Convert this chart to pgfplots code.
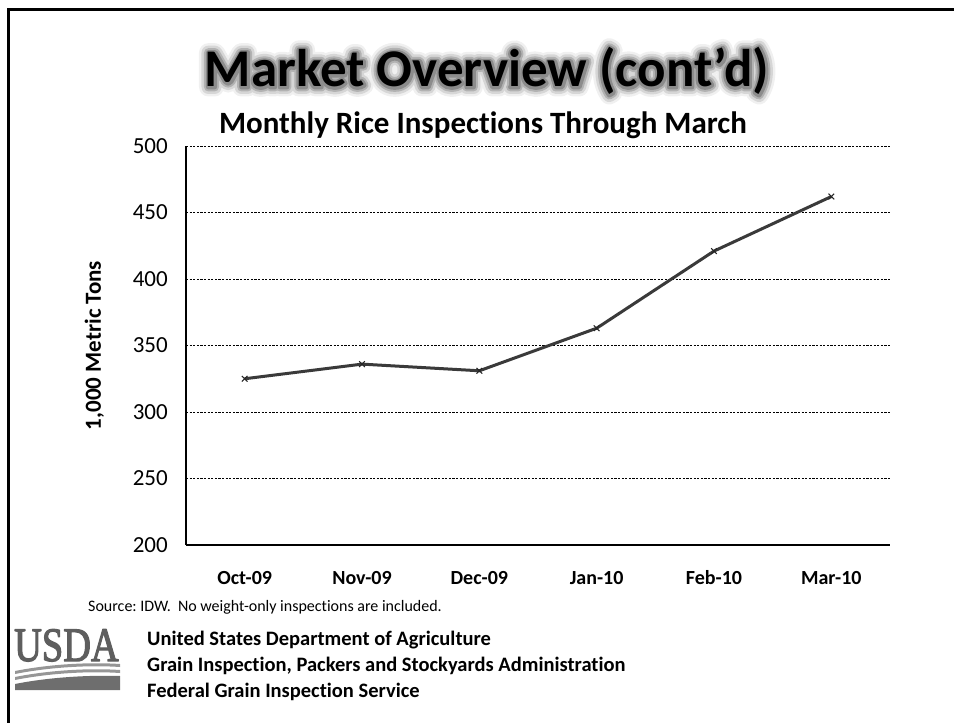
\documentclass[border=0pt]{standalone}
\usepackage{fontspec}
\setmainfont{Carlito}[Ligatures={NoCommon}]
\newfontfamily\logofont{Liberation Serif}
\usepackage{pgfplots}
\pgfplotsset{compat=1.18}
\definecolor{lineclr}{HTML}{3A3A3A}
\definecolor{logoclr}{HTML}{5E5E5E}
\newcommand\glowtext[3]{\special{pdf:literal direct 1 j 1 J #1 w #2 G 2 Tr}#3\special{pdf:literal direct 0 Tr 1 w 0 G}}
\frenchspacing
\begin{document}
\begin{tikzpicture}[x=1bp,y=1bp]
\useasboundingbox (0,0) rectangle (954,-723);
\draw[line width=3bp] (8.5,-723) -- (8.5,-9.5) -- (954,-9.5);
% title with soft grey glow
\foreach \w/\g in {19/0.94,14/0.84,9/0.7,5/0.55}{
\node[anchor=base, inner sep=0pt, text=white, font=\fontsize{53bp}{60bp}\selectfont\bfseries] at (487,-87) {\glowtext{\w}{\g}{Market Overview (cont’d)}};
}
\node[anchor=base, inner sep=0pt, font=\fontsize{53bp}{60bp}\selectfont\bfseries] at (487,-87) {Market Overview (cont’d)};
\node[anchor=base, inner sep=0pt, font=\fontsize{31bp}{36bp}\selectfont\bfseries] at (483,-134) {Monthly Rice Inspections Through March};
\begin{axis}[
  at={(186bp,-545bp)}, anchor=south west,
  scale only axis, width=704bp, height=399bp,
  xmin=-0.5, xmax=5.5, ymin=200, ymax=500,
  xtick={0,1,2,3,4,5},
  xticklabels={Oct-09,Nov-09,Dec-09,Jan-10,Feb-10,Mar-10},
  ytick={200,250,300,350,400,450,500},
  axis x line*=bottom, axis y line*=left,
  axis line style={line width=2bp, black, -},
  major tick length=0pt,
  ymajorgrids,
  grid style={black, line width=0.7bp, dash pattern=on 2.2bp off 1.4bp},
  /pgf/number format/assume math mode=true,
  yticklabel style={font=\fontsize{23bp}{27bp}\selectfont, inner sep=0pt, anchor=east, xshift=-18bp},
  xticklabel style={font=\fontsize{20bp}{24bp}\selectfont\bfseries, inner sep=0pt, anchor=base, yshift=-39.5bp},
  ylabel={1,000 Metric Tons},
  ylabel style={font=\fontsize{23bp}{27bp}\selectfont\bfseries, at={(axis description cs:-0.13,0.5)}, anchor=center, inner sep=0pt},
  clip=false,
]
\addplot[color=lineclr, line width=3bp, mark=x, mark size=4bp,
  mark options={line width=1bp, color=black!85}]
  coordinates {(0,325) (1,336) (2,331) (3,363) (4,421) (5,462)};
\end{axis}
\node[anchor=base west, inner sep=0pt, font=\fontsize{16bp}{19bp}\selectfont] at (88,-611) {Source: IDW.\ \ No weight-only inspections are included.};
% logo
\node[anchor=base west, inner sep=0pt, text=logoclr, font=\logofont\fontsize{48bp}{50bp}\selectfont, xscale=0.8] at (14,-661) {\glowtext{1.3}{0.37}{USDA}};
\fill[logoclr!65] (15,-671) .. controls (50,-664) and (90,-662) .. (120,-664) -- (120,-667) .. controls (90,-665) and (50,-667) .. (15,-674) -- cycle;
\fill[logoclr!65] (15,-677) .. controls (50,-670) and (90,-668) .. (120,-670) -- (120,-673) .. controls (90,-671) and (50,-673) .. (15,-680) -- cycle;
\fill[logoclr!90] (15,-690) -- (15,-684) .. controls (50,-677) and (90,-675) .. (120,-676) -- (120,-690) -- cycle;
\foreach \t/\yy in {United States Department of Agriculture/645, {Grain Inspection, Packers and Stockyards Administration}/671, Federal Grain Inspection Service/697}{
  \node[anchor=base west, inner sep=0pt, font=\fontsize{20.5bp}{24bp}\selectfont\bfseries] at (147,-\yy) {\t};
}
\end{tikzpicture}
\end{document}
